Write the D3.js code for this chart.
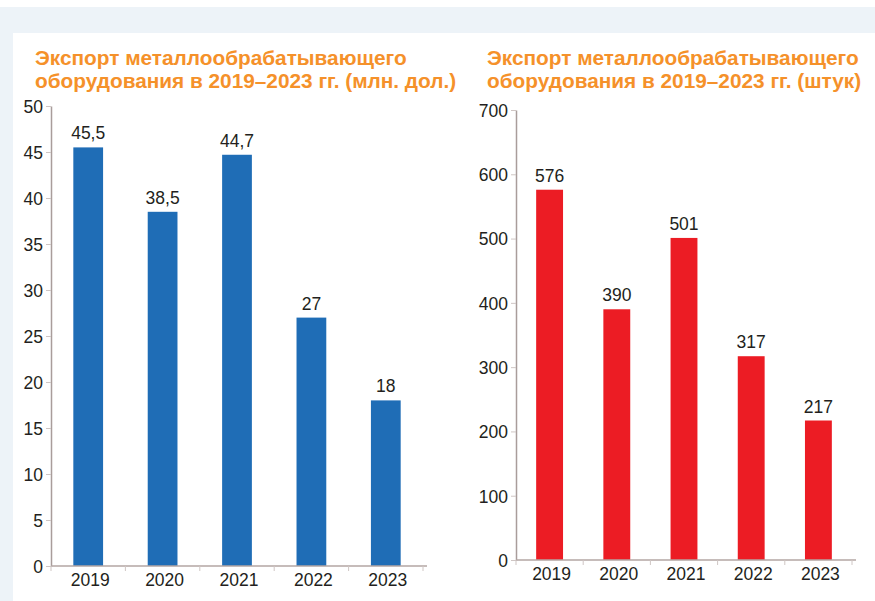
<!DOCTYPE html>
<html>
<head>
<meta charset="utf-8">
<script src="https://cdn.jsdelivr.net/npm/d3@7"></script>
<style>
    body { margin: 0; background: #fff; }
    text { font-family: "Liberation Sans", Arial, sans-serif; }
</style>
</head>
<body>
<div id="chart"></div>
<script>

// data
const years = ["2019", "2020", "2021", "2022", "2023"];
const exportMoney = [45.5, 38.5, 44.7, 27, 18];      // млн. дол.
const exportUnits = [576, 390, 501, 317, 217];       // штук
const moneyTicks = [0, 5, 10, 15, 20, 25, 30, 35, 40, 45, 50];
const unitTicks = [0, 100, 200, 300, 400, 500, 600, 700];
const moneyTitle = ["Экспорт металлообрабатывающего", "оборудования в 2019–2023 гг. (млн. дол.)"];
const unitTitle = ["Экспорт металлообрабатывающего", "оборудования в 2019–2023 гг. (штук)"];

const width = 875, height = 601;

let svg = d3.select("#chart").append("svg")
    .attr("width", width)
    .attr("height", height);

// page background
svg.append("rect").attr("width", width).attr("height", height).attr("fill", "#edf3f8");
svg.append("rect").attr("width", width).attr("height", 7).attr("fill", "#ffffff");
svg.append("rect").attr("x", 13).attr("y", 33).attr("width", width - 13).attr("height", height - 33).attr("fill", "#ffffff");

function drawBarChart(cfg) {
    let g = svg.append("g");

    // title
    let title = g.append("text")
        .attr("x", cfg.titleX)
        .attr("y", 65)
        .attr("fill", "#f5912a")
        .attr("font-weight", "bold")
        .attr("font-size", "20.8px");
    cfg.title.forEach((line, i) => {
        title.append("tspan").attr("x", cfg.titleX).attr("dy", i === 0 ? 0 : 23).text(line);
    });

    // scales
    let x = d3.scaleBand()
        .domain(years)
        .range(cfg.xRange)
        .paddingInner(0.6)
        .paddingOuter(0.3);

    let y = d3.scaleLinear()
        .domain([0, d3.max(cfg.ticks)])
        .range(cfg.yRange);

    // y axis
    let yAxis = g.append("g")
        .attr("transform", `translate(${cfg.xRange[0]},0)`)
        .call(d3.axisLeft(y).tickValues(cfg.ticks).tickSize(5).tickPadding(3).tickSizeOuter(0));
    yAxis.select(".domain").attr("stroke", "#a99d9b").attr("stroke-width", 1.5);
    yAxis.selectAll(".tick line").attr("stroke", "#cfc6c4");
    yAxis.selectAll("text")
        .attr("font-size", "17.5px")
        .attr("fill", "#231f20")
        .attr("dy", "0.36em");

    // bars
    g.selectAll(".bar")
        .data(cfg.values)
        .enter()
        .append("rect")
        .attr("class", "bar")
        .attr("x", (d, i) => x(years[i]))
        .attr("y", d => y(d))
        .attr("width", x.bandwidth())
        .attr("height", d => y(0) - y(d))
        .attr("fill", cfg.color);

    // value labels
    g.selectAll(".value-label")
        .data(cfg.values)
        .enter()
        .append("text")
        .attr("class", "value-label")
        .attr("x", (d, i) => x(years[i]) + x.bandwidth() / 2)
        .attr("y", d => y(d) - 8)
        .attr("text-anchor", "middle")
        .attr("font-size", "17.5px")
        .attr("fill", "#231f20")
        .text(d => String(d).replace(".", ","));

    // x axis line + ticks between categories
    g.append("line")
        .attr("x1", cfg.xRange[0]).attr("x2", cfg.xRange[1] + 4)
        .attr("y1", y(0)).attr("y2", y(0))
        .attr("stroke", "#b3a6a3").attr("stroke-width", 1.5);

    g.selectAll(".x-tick")
        .data(d3.range(years.length + 1))
        .enter()
        .append("line")
        .attr("class", "x-tick")
        .attr("x1", i => cfg.xRange[0] + i * x.step())
        .attr("x2", i => cfg.xRange[0] + i * x.step())
        .attr("y1", y(0)).attr("y2", y(0) + 5)
        .attr("stroke", "#cfc6c4");

    g.selectAll(".x-label")
        .data(years)
        .enter()
        .append("text")
        .attr("class", "x-label")
        .attr("x", d => x(d) + x.bandwidth() / 2 + 2)
        .attr("y", y(0) + 20)
        .attr("text-anchor", "middle")
        .attr("font-size", "17.5px")
        .attr("fill", "#231f20")
        .text(d => d);
}

drawBarChart({
    title: moneyTitle,
    titleX: 35,
    values: exportMoney,
    ticks: moneyTicks,
    xRange: [51, 423],
    yRange: [566, 106],
    color: "#1f6db6"
});

drawBarChart({
    title: unitTitle,
    titleX: 487,
    values: exportUnits,
    ticks: unitTicks,
    xRange: [516, 852],
    yRange: [560, 110],
    color: "#ec1c24"
});

</script>
</body>
</html>
